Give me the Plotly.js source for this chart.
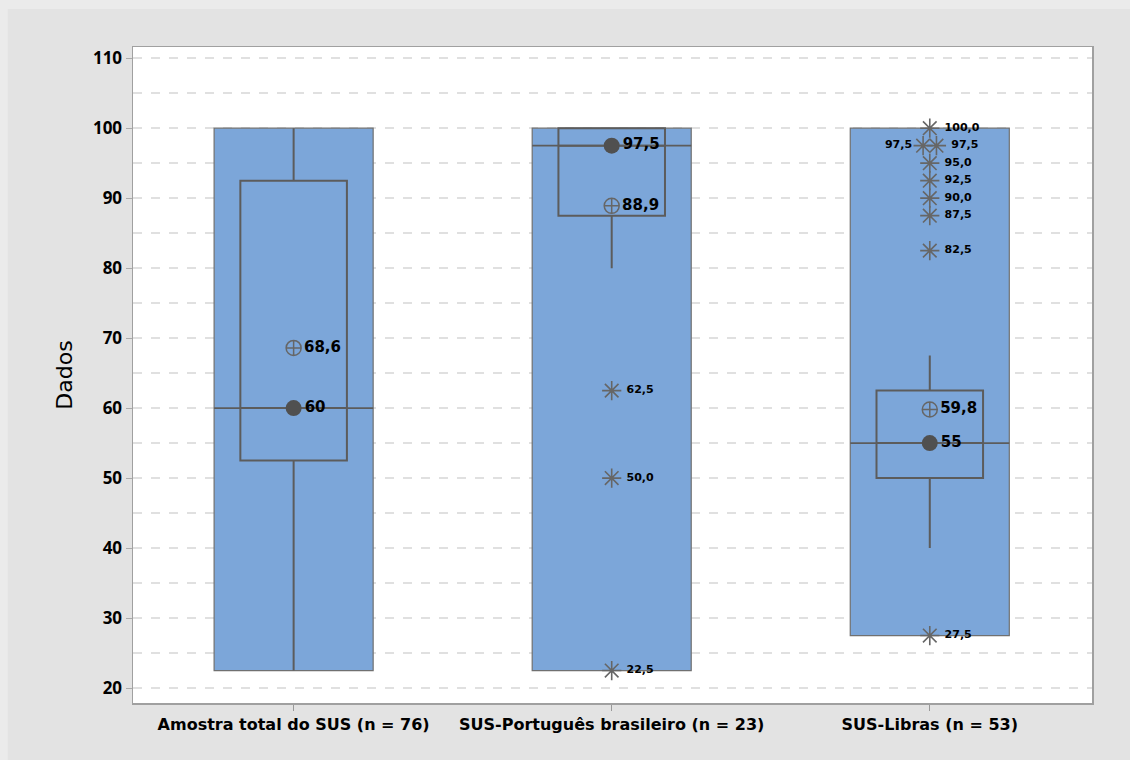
<!DOCTYPE html>
<html>
<head>
<meta charset="utf-8">
<script src="https://cdn.plot.ly/plotly-3.0.1.min.js"></script>
<style>html,body{margin:0;padding:0;background:#ebebeb;}#chart{width:1130px;height:760px;}</style>
</head>
<body>
<div id="chart"></div>
<script>
// ---- data ----
const categories = ["Amostra total do SUS (n = 76)", "SUS-Português brasileiro (n = 23)", "SUS-Libras (n = 53)"];
const minValues = [22.5, 22.5, 27.5];
const maxValues = [100, 100, 100];
const q1Values = [52.5, 87.5, 50];
const medianValues = [60, 97.5, 55];
const q3Values = [92.5, 100, 62.5];
const lowerWhisker = [22.5, 80, 40];
const upperWhisker = [100, 100, 67.5];
const meanValues = [68.6, 88.9, 59.8];
const outliersGroup1 = [];
const outliersGroup2 = [62.5, 50.0, 22.5];
const outliersGroup3 = [100.0, 97.5, 97.5, 95.0, 92.5, 90.0, 87.5, 82.5, 27.5];
const outliers = [outliersGroup1, outliersGroup2, outliersGroup3];
const yTicks = [20, 30, 40, 50, 60, 70, 80, 90, 100, 110];

// ---- styles ----
const pos = categories.map((c, i) => i + 1);
const rangeHalf = 0.25;
const boxWidth = 0.335;
const jitter = 0.021;
const lineCol = '#5c5c5c';
const fmt = v => String(v).replace('.', ',');
const fmt1 = v => v.toFixed(1).replace('.', ',');
const labelFont = 'DejaVu Sans, sans-serif';

const traces = [];

// range bars (min to max)
traces.push({
  type: 'bar', x: pos, base: minValues,
  y: maxValues.map((m, i) => m - minValues[i]),
  width: pos.map(() => 2 * rangeHalf),
  marker: {color: '#7ca6d9', line: {color: '#707070', width: 1.2}},
  hoverinfo: 'skip', showlegend: false
});

// IQR boxes with whiskers
traces.push({
  type: 'box', x: pos, q1: q1Values, median: medianValues, q3: q3Values,
  lowerfence: lowerWhisker, upperfence: upperWhisker,
  width: boxWidth, whiskerwidth: 0, boxpoints: false,
  fillcolor: 'rgba(0,0,0,0)', line: {color: lineCol, width: 2},
  hoverinfo: 'skip', showlegend: false
});

// median line across range bar
const mx = [], my = [];
pos.forEach((p, i) => { mx.push(p - rangeHalf, p + rangeHalf, null); my.push(medianValues[i], medianValues[i], null); });
traces.push({type: 'scatter', mode: 'lines', x: mx, y: my, line: {color: lineCol, width: 1.6}, hoverinfo: 'skip', showlegend: false});

// mean markers
traces.push({
  type: 'scatter', mode: 'markers+text', x: pos, y: meanValues,
  text: meanValues.map(fmt), textposition: 'middle right',
  textfont: {family: labelFont, size: 15, color: '#000', weight: 'bold'},
  marker: {symbol: 'circle-cross-open', size: 15, color: '#666', line: {width: 1.5}},
  hoverinfo: 'skip', showlegend: false
});

// median markers
traces.push({
  type: 'scatter', mode: 'markers+text', x: pos, y: medianValues,
  text: medianValues.map(fmt), textposition: 'middle right',
  textfont: {family: labelFont, size: 15, color: '#000', weight: 'bold'},
  marker: {symbol: 'circle', size: 16, color: '#505050'},
  hoverinfo: 'skip', showlegend: false
});

// outliers
const ox = [], oy = [], ot = [], otp = [];
outliers.forEach((arr, i) => {
  const seen = {};
  arr.forEach(v => {
    const dup = arr.filter(w => w === v).length > 1;
    let x = pos[i];
    let tp = 'middle right';
    let t = ' ' + fmt1(v);
    if (dup) {
      seen[v] = (seen[v] || 0) + 1;
      if (seen[v] === 1) { x = pos[i] - jitter; tp = 'middle left'; t = fmt1(v); } else { x = pos[i] + jitter; }
    }
    ox.push(x); oy.push(v); ot.push(t); otp.push(tp);
  });
});
traces.push({
  type: 'scatter', mode: 'markers+text', x: ox, y: oy, text: ot, textposition: otp,
  textfont: {family: labelFont, size: 11, color: '#000', weight: 'bold'},
  marker: {symbol: 'asterisk-open', size: 16, color: '#666', line: {color: '#666', width: 1.6}},
  hoverinfo: 'skip', showlegend: false
});

const layout = {
  width: 1130, height: 760,
  margin: {l: 133, r: 38, t: 47, b: 57},
  paper_bgcolor: '#ebebeb', plot_bgcolor: '#ffffff',
  barmode: 'overlay', boxmode: 'overlay',
  font: {family: 'Noto Sans, sans-serif', color: '#000'},
  xaxis: {
    range: [0.495, 3.51], tickvals: pos, ticktext: categories,
    ticks: 'outside', ticklen: 6, tickcolor: '#999',
    tickfont: {family: labelFont, size: 16, weight: 'bold', color: '#000'},
    showgrid: false, zeroline: false,
    showline: true, linecolor: '#a0a0a0', linewidth: 1.5, mirror: true
  },
  yaxis: {
    range: [17.86, 111.6], tickvals: yTicks,
    ticks: 'outside', ticklen: 6, tickcolor: '#aaa',
    tickfont: {size: 17, weight: 'bold', color: '#000'},
    showgrid: true, gridcolor: '#e0e0e0', gridwidth: 1.5, griddash: 'dash',
    minor: {dtick: 5, tick0: 0, showgrid: true, gridcolor: '#e0e0e0', gridwidth: 1.5, griddash: 'dash', ticks: ''},
    zeroline: false, showline: true, linecolor: '#a0a0a0', linewidth: 1.5, mirror: true,
    title: {text: 'Dados', font: {family: labelFont, size: 22, color: '#000'}, standoff: 14}
  },
  shapes: [
    {type: 'rect', xref: 'paper', yref: 'paper', layer: 'below',
     x0: -0.1306, x1: 1.05, y0: -0.1, y1: 1.0580,
     fillcolor: '#e3e3e3', line: {width: 0}},
    {type: 'rect', xref: 'paper', yref: 'paper', layer: 'below',
     x0: 0, x1: 1, y0: 0, y1: 1,
     fillcolor: '#ffffff', line: {width: 0}}
  ]
};

Plotly.newPlot('chart', traces, layout, {displayModeBar: false, staticPlot: true});
</script>
</body>
</html>
